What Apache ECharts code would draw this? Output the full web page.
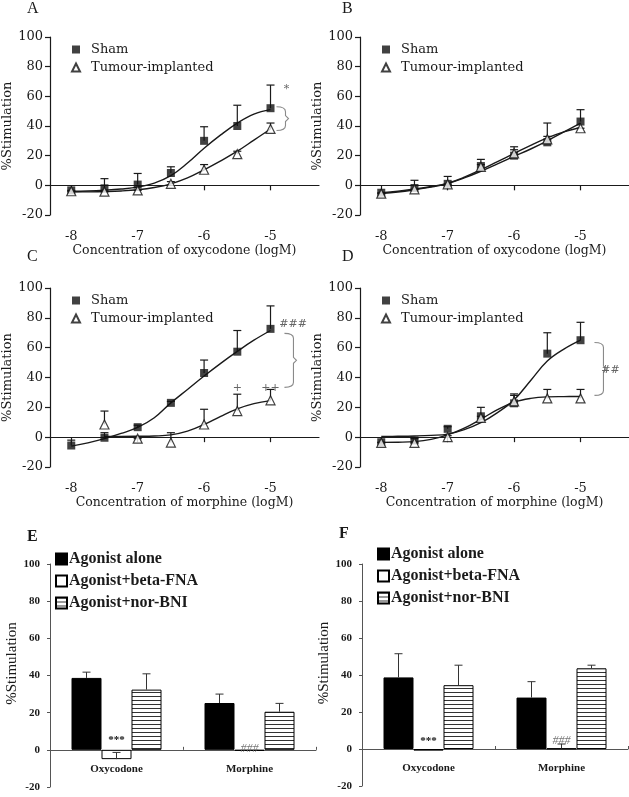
<!DOCTYPE html>
<html><head><meta charset="utf-8">
<script src="https://cdn.jsdelivr.net/npm/echarts@6/dist/echarts.min.js"></script>
<style>html,body{margin:0;padding:0;background:#fff}#c{width:629px;height:797px}</style>
</head><body><div id="c"></div>
<script>
// ---------- DATA ----------
const logConc = [-8, -7.5, -7, -6.5, -6, -5.5, -5];
const curveX = [-8, -7.75, -7.5, -7.25, -7, -6.75, -6.5, -6.25, -6, -5.75, -5.5, -5.25, -5];
const xTickValues = [-8, -7, -6, -5];

// Panel A (oxycodone)
const aShamMean  = [-3.4, -2, 0.5, 8.3, 30, 40, 52];
const aShamUpper = [-3.4, 4.5, 8, 12.5, 39.5, 54, 67.6];
const aTumMean   = [-4, -4.3, -3.4, 1, 10.5, 21, 38];
const aTumUpper  = [-4, -4.3, -3.4, 2.5, 14, 23, 42];
const aShamCurve = [-4, -3.8, -3.3, -2.5, -1.2, 1.5, 6.5, 15, 25, 34, 42, 48, 51];
const aTumCurve  = [-4.5, -4.4, -4.2, -3.8, -3, -1.5, 1, 5, 10.5, 16.5, 23, 30.5, 38];

// Panel B (oxycodone)
const bShamMean  = [-5, -1.8, 1, 13, 20, 29, 43];
const bShamUpper = [-5, 3.4, 6, 17.5, 24, 42, 51];
const bTumMean   = [-5.6, -2.7, 0.7, 12.5, 21.5, 31, 38.5];
const bTumUpper  = [-5.6, -2.7, 0.7, 14, 26, 33, 38.5];
const bShamCurve = [-5.5, -4.5, -3, -1.2, 1.2, 5, 9.5, 14.5, 19.5, 24.5, 30, 36, 42];
const bTumCurve  = [-5, -4, -2.5, -0.8, 1.5, 5.5, 10.5, 16, 21.5, 27, 32, 36, 39];

// Panel C (morphine)
const cShamMean  = [-5.6, -0.4, 6.7, 23, 43, 57.3, 72.6];
const cShamUpper = [-2, 3, 8, 24, 51.7, 71.5, 88];
const cTumMean   = [null, 8.5, -1, -3.6, 8.5, 17.5, 24.7];
const cTumUpper  = [null, 17.5, -1, 3, 18.7, 28.8, 32];
const cShamCurve = [-6, -3.8, -1, 2.5, 6.5, 13, 23, 32, 41, 49.5, 57.5, 65, 71.5];
const cTumCurve  = [null, null, 0.5, 0.5, 0.6, 0.8, 1.5, 4, 8.5, 14, 19, 22.5, 24.5];

// Panel D (morphine)
const dShamMean  = [-3.4, -2.2, 5.6, 14, 22.7, 56, 65];
const dShamUpper = [-3.4, -1, 7, 20, 29, 70, 77];
const dTumMean   = [-3.8, -3.8, 0, 13, 24, 26, 26];
const dTumUpper  = [-3.8, -3.8, 1, 14, 28, 32, 32];
const dShamCurve = [0.5, 0.6, 0.8, 1.2, 2, 5, 9.7, 16.5, 25, 38, 51, 59, 65];
const dTumCurve  = [-3.5, -3.4, -3, -1.5, 1.5, 6, 12, 18.5, 23.5, 26, 27, 27.2, 27.3];

// Panels E, F (bars)
const barCategories = ['Oxycodone', 'Morphine'];
const barSeriesNames = ['Agonist alone', 'Agonist+beta-FNA', 'Agonist+nor-BNI'];
const eAlone = [38.7, 25.2],  eAloneUpper = [41.8, 30];
const eBeta  = [-5, -0.5],    eBetaUpper  = [-1.4, -0.5];
const eNor   = [32.4, 20.5],  eNorUpper   = [40.9, 25];
const fAlone = [38.7, 27.8],  fAloneUpper = [51.5, 36.4];
const fBeta  = [-0.9, 0.3],   fBetaUpper  = [-0.9, 2.7];
const fNor   = [34.5, 43.6],  fNorUpper   = [45.3, 45.3];

// Annotations (data coordinates)
const lineBrackets = [ // [panel, x, yTop, yBottom]
  [0, -4.91, 53, 37],
  [2, -4.79, 69.6, 33.4],
  [3, -4.79, 63.5, 28]
];
const lineMarks = [ // [panel, x, y, text]
  [0, -4.76, 64.7, '*'],
  [2, -4.66, 76, '###'],
  [2, -5.5, 33, '+'],
  [2, -5, 33, '++'],
  [3, -4.55, 45, '##']
];
const barMarks = [ // [panel(4/5), category, y, text]
  [4, 0, 5, '***'],
  [4, 1, 0.6, '###'],
  [5, 0, 4.5, '***'],
  [5, 1, 4.5, '###']
];

// ---------- CHART ----------
const SERIF = 'DejaVu Serif';
const BSERIF = 'Liberation Serif';
const INK = '#1a1a1a';

const grids = [
  {left: 50, top: 37, width: 269, height: 178},
  {left: 360, top: 37, width: 269, height: 178},
  {left: 50, top: 288, width: 269, height: 179},
  {left: 360, top: 288, width: 269, height: 179},
  {left: 50, top: 564, width: 266, height: 223},
  {left: 362, top: 564, width: 266, height: 222}
].map(g => Object.assign(g, {outerBoundsMode: 'none', containLabel: false}));

const xAxes = [], yAxes = [], series = [], legends = [];
const drugNames = ['oxycodone', 'oxycodone', 'morphine', 'morphine'];
const panels = [
  [aShamMean, aShamUpper, aTumMean, aTumUpper, aShamCurve, aTumCurve],
  [bShamMean, bShamUpper, bTumMean, bTumUpper, bShamCurve, bTumCurve],
  [cShamMean, cShamUpper, cTumMean, cTumUpper, cShamCurve, cTumCurve],
  [dShamMean, dShamUpper, dTumMean, dTumUpper, dShamCurve, dTumCurve]
];

function errRender(params, api) {
  const x = api.value(0), m = api.value(1), u = api.value(2);
  const p0 = api.coord([x, m]), p1 = api.coord([x, u]);
  const st = {stroke: INK, lineWidth: 1.2};
  return {type: 'group', children: [
    {type: 'line', shape: {x1: p0[0], y1: p0[1], x2: p1[0], y2: p1[1]}, style: st},
    {type: 'line', shape: {x1: p1[0] - 4, y1: p1[1], x2: p1[0] + 4, y2: p1[1]}, style: st}
  ]};
}

panels.forEach((p, i) => {
  const [sm, su, tm, tu, sc, tc] = p;
  xAxes.push({
    gridIndex: i, type: 'value', min: -8.32, max: -4.27,
    axisLine: {onZero: true, lineStyle: {color: INK, width: 1.2}},
    axisTick: {customValues: xTickValues, length: 5, lineStyle: {color: INK, width: 1.2}},
    axisLabel: {customValues: xTickValues, margin: 15, fontSize: 13, color: INK, fontFamily: SERIF},
    splitLine: {show: false},
    name: 'Concentration of ' + drugNames[i] + ' (logM)', nameLocation: 'middle', nameGap: 1,
    nameTextStyle: {fontSize: 12.5, color: INK, fontFamily: SERIF}
  });
  yAxes.push({
    gridIndex: i, type: 'value', min: -20, max: 100, interval: 20,
    axisLine: {show: true, lineStyle: {color: INK, width: 1.2}},
    axisTick: {show: true, length: 5, lineStyle: {color: INK, width: 1.2}},
    axisLabel: {fontSize: 13, color: INK, margin: 7, fontFamily: SERIF},
    splitLine: {show: false},
    name: '%Stimulation', nameLocation: 'middle', nameGap: 32,
    nameTextStyle: {fontSize: 13, color: INK, fontFamily: SERIF}
  });
  const pair = (xs, ys) => xs.map((x, k) => [x, ys[k]]).filter(d => d[1] !== null);
  const trip = (xs, ys, us) => xs.map((x, k) => [x, ys[k], us[k]]).filter(d => d[1] !== null);
  series.push({type: 'line', xAxisIndex: i, yAxisIndex: i, data: pair(curveX, sc), smooth: 0.4,
    showSymbol: false, lineStyle: {color: INK, width: 1.4}, z: 2, silent: true});
  series.push({type: 'line', xAxisIndex: i, yAxisIndex: i, data: pair(curveX, tc), smooth: 0.4,
    showSymbol: false, lineStyle: {color: INK, width: 1.4}, z: 2, silent: true});
  series.push({type: 'custom', xAxisIndex: i, yAxisIndex: i, data: trip(logConc, sm, su), renderItem: errRender, z: 3, silent: true});
  series.push({type: 'custom', xAxisIndex: i, yAxisIndex: i, data: trip(logConc, tm, tu), renderItem: errRender, z: 3, silent: true});
  series.push({name: 'Sham', type: 'scatter', xAxisIndex: i, yAxisIndex: i, data: pair(logConc, sm),
    symbol: 'rect', symbolSize: 8, itemStyle: {color: '#111'}, z: 5});
  series.push({name: 'Tumour-implanted', type: 'scatter', xAxisIndex: i, yAxisIndex: i, data: pair(logConc, tm),
    symbol: 'triangle', symbolSize: 9, itemStyle: {color: '#fff', borderColor: '#111', borderWidth: 1.2}, z: 5});
  const g = grids[i];
  legends.push({
    orient: 'vertical', left: g.left + 16, top: g.top + 1, itemWidth: 8, itemHeight: 8, itemGap: 5,
    data: ['Sham', 'Tumour-implanted'], selectedMode: false,
    textStyle: {fontSize: 13, color: INK, fontFamily: SERIF, padding: [0, 0, 0, 6]}
  });
});

panels.forEach((p, i) => {
  const br = lineBrackets.filter(b => b[0] === i).map(b => [b[1], b[2], b[3]]);
  if (br.length) series.push({type: 'custom', xAxisIndex: i, yAxisIndex: i, data: br, silent: true, z: 4,
    renderItem: (params, api) => {
      const a = api.coord([api.value(0), api.value(1)]);
      const b = api.coord([api.value(0), api.value(2)]);
      const x0 = a[0], x1 = a[0] + 9, mid = (a[1] + b[1]) / 2;
      return {type: 'path', shape: {pathData:
        `M${x0} ${a[1]} Q${x1} ${a[1]} ${x1} ${a[1] + 5} L${x1} ${mid - 3} L${x1 + 3} ${mid} L${x1} ${mid + 3} L${x1} ${b[1] - 5} Q${x1} ${b[1]} ${x0} ${b[1]}`},
        style: {stroke: '#8a8a8a', lineWidth: 1.1, fill: null}};
    }});
  const mk = lineMarks.filter(m => m[0] === i).map(m => [m[1], m[2], m[3]]);
  if (mk.length) series.push({type: 'custom', xAxisIndex: i, yAxisIndex: i, data: mk, silent: true, z: 4,
    dimensions: ['x', 'y', {name: 't', type: 'ordinal'}],
    renderItem: (params, api) => {
      const c = api.coord([api.value(0), api.value(1)]);
      const t = mk[params.dataIndex][2];
      return {type: 'text', style: {text: t, x: c[0], y: c[1], align: 'center', verticalAlign: 'middle',
        fontSize: 11, fontStyle: 'italic', fill: '#666', fontFamily: SERIF}};
    }});
});

// bar panels
const stripeCanvas = document.createElement('canvas');
stripeCanvas.width = 4; stripeCanvas.height = 4;
(function () {
  const ctx = stripeCanvas.getContext('2d');
  ctx.fillStyle = '#fff'; ctx.fillRect(0, 0, 4, 4);
  ctx.fillStyle = '#333'; ctx.fillRect(0, 0, 4, 1);
})();
const barStyles = [
  {color: '#000', borderColor: '#000', borderWidth: 1},
  {color: '#fff', borderColor: '#000', borderWidth: 1},
  {color: {image: stripeCanvas, repeat: 'repeat'}, borderColor: '#000', borderWidth: 1}
];
const BAR_W = 30;
const barPanels = [
  [[eAlone, eAloneUpper], [eBeta, eBetaUpper], [eNor, eNorUpper]],
  [[fAlone, fAloneUpper], [fBeta, fBetaUpper], [fNor, fNorUpper]]
];
barPanels.forEach((bp, j) => {
  const gi = 4 + j;
  xAxes.push({
    gridIndex: gi, type: 'category', data: barCategories,
    axisLine: {onZero: true, lineStyle: {color: '#555', width: 1}},
    axisTick: {show: true, length: 3, inside: true, lineStyle: {color: '#555'}},
    axisLabel: {fontSize: 11, fontWeight: 'bold', color: INK, margin: -23, fontFamily: BSERIF}
  });
  yAxes.push({
    gridIndex: gi, type: 'value', min: -20, max: 100, interval: 20,
    axisLine: {show: true, lineStyle: {color: '#555', width: 1}},
    axisTick: {show: true, length: 3, lineStyle: {color: '#555'}},
    axisLabel: {fontSize: 11, fontWeight: 'bold', color: INK, margin: 10, fontFamily: BSERIF},
    splitLine: {show: false},
    name: '%Stimulation', nameLocation: 'middle', nameGap: 30,
    nameTextStyle: {fontSize: 15, color: INK, fontFamily: BSERIF, padding: [0, 0, 0, 24]}
  });
  bp.forEach((s, k) => {
    series.push({name: barSeriesNames[k], type: 'bar', xAxisIndex: gi, yAxisIndex: gi, data: s[0],
      barWidth: BAR_W, barGap: '0%', itemStyle: barStyles[k], z: 2});
  });
  const errData = [];
  bp.forEach((s, k) => s[0].forEach((v, c) => errData.push([c, v, s[1][c], k])));
  series.push({type: 'custom', xAxisIndex: gi, yAxisIndex: gi, data: errData, silent: true, z: 3,
    renderItem: (params, api) => {
      const c = api.value(0), m = api.value(1), u = api.value(2), k = api.value(3);
      if (u === m) return null;
      const p0 = api.coord([c, m]), p1 = api.coord([c, u]);
      const off = (k - 1) * BAR_W;
      const st = {stroke: '#333', lineWidth: 1};
      return {type: 'group', children: [
        {type: 'line', shape: {x1: p0[0] + off, y1: p0[1], x2: p1[0] + off, y2: p1[1]}, style: st},
        {type: 'line', shape: {x1: p1[0] + off - 4, y1: p1[1], x2: p1[0] + off + 4, y2: p1[1]}, style: st}
      ]};
    }});
  const mk = barMarks.filter(m => m[0] === gi);
  series.push({type: 'custom', xAxisIndex: gi, yAxisIndex: gi, data: mk.map(m => [m[1], m[2]]), silent: true, z: 4,
    renderItem: (params, api) => {
      const c = api.coord([api.value(0), api.value(1)]);
      const t = mk[params.dataIndex][3];
      const hash = t[0] === '#';
      return {type: 'text', style: {text: t, x: c[0], y: c[1], align: 'center', verticalAlign: 'middle',
        fontSize: hash ? 12 : 11, fontStyle: hash ? 'italic' : 'normal', fontWeight: hash ? 'normal' : 'bold',
        fill: hash ? '#777' : '#111', fontFamily: BSERIF}};
    }});
  const g = grids[gi];
  legends.push({
    orient: 'vertical', left: g.left + (j ? 10 : 0), top: g.top - (j ? 23 : 18), itemWidth: 11, itemHeight: 11, itemGap: 6,
    data: barSeriesNames, selectedMode: false, icon: 'rect',
    textStyle: {fontSize: 16, fontWeight: 'bold', color: INK, fontFamily: BSERIF, padding: [0, 0, 0, -3]}
  });
});

const letters = [['A', 33, 10], ['B', 348, 10], ['C', 33, 258], ['D', 348, 258], ['E', 33, 538], ['F', 345, 535]];
const graphic = letters.map(l => ({type: 'text', left: l[1] - 6, top: l[2] - 9,
  style: {text: l[0], fontSize: 16, fontWeight: l[0] > 'D' ? 'bold' : 'normal', fill: INK, fontFamily: BSERIF}}));

const chart = echarts.init(document.getElementById('c'), null, {renderer: 'canvas'});
chart.setOption({
  animation: false,
  backgroundColor: '#fff',
  grid: grids, xAxis: xAxes, yAxis: yAxes, legend: legends, series: series, graphic: graphic
});
</script></body></html>
